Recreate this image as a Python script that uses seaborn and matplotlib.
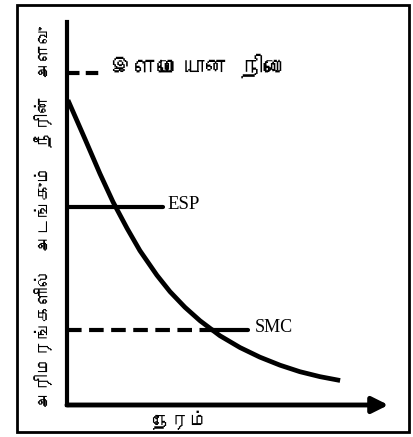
import matplotlib
matplotlib.use("Agg")
import matplotlib.pyplot as plt
from matplotlib import font_manager
from matplotlib.ft2font import FT2Font
from matplotlib.patches import Rectangle
import seaborn as sns
import pandas as pd

# ---- data (schematic units 0..100) ----
time_vals = [0.3, 5.6, 10.3, 14.4, 18.8, 22.8, 28.1, 32.2, 36.9, 41.6, 47.8,
             54.1, 60.3, 66.6, 72.8, 79.1, 85.4]
moisture_vals = [79.6, 69.5, 60.4, 53.0, 46.1, 40.3, 33.9, 29.6, 25.5, 22.0,
                 18.1, 15.0, 12.5, 10.4, 8.7, 7.4, 6.4]
young_level = 86.7
esp_level = 51.7
smc_level = 19.6
label_young = "இளமையான நிலை"
label_esp = "ESP"
label_smc = "SMC"
x_label = "நேரம்"
y_label = "அரிமரங்களில்  அடங்கும்  நீரின்  அளவு"

sns.set_theme(style="white")

# find a font with Tamil glyphs if one exists
tamil_font = None
for f in font_manager.fontManager.ttflist:
    try:
        ft = FT2Font(f.fname)
        if ft.get_char_index(0x0B87) and ft.get_char_index(0x0BAE):
            tamil_font = f.name
            break
    except Exception:
        pass
fam = [tamil_font, "DejaVu Sans"] if tamil_font else ["DejaVu Sans"]
plt.rcParams["font.family"] = fam

fig = plt.figure(figsize=(4.13, 4.37), dpi=100)
W, H = 413, 437
fig.patches.append(Rectangle((17 / W, 1 - 432 / H), 392 / W, 427 / H,
                             transform=fig.transFigure, fill=False,
                             edgecolor="black", linewidth=2))
ax = fig.add_axes([67 / W, 1 - 405 / H, (390 - 67) / W, (405 - 22) / H])
ax.set_xlim(0, 101)
ax.set_ylim(0, 100)
for s in ["top", "right", "bottom"]:
    ax.spines[s].set_visible(False)
ax.spines["left"].set_linewidth(3)
ax.spines["left"].set_color("black")
ax.set_xticks([])
ax.set_yticks([])

df = pd.DataFrame({"t": time_vals, "m": moisture_vals})
sns.lineplot(data=df, x="t", y="m", ax=ax, color="black", linewidth=3.4,
             solid_joinstyle="round", solid_capstyle="butt")

# x axis with arrow
ax.annotate("", xy=(100.5, 0), xytext=(0, 0),
            arrowprops=dict(arrowstyle="-|>,head_length=0.8,head_width=0.4",
                            lw=3.5, color="black", shrinkA=0, shrinkB=0),
            annotation_clip=False)

# level lines
ax.plot([0, 10.3], [young_level, young_level], color="black", lw=3, ls=(0, (3, 1.5)))
ax.plot([0, 30], [esp_level, esp_level], color="black", lw=3)
ax.plot([0, 47], [smc_level, smc_level], color="black", lw=3, ls=(0, (3.5, 1.8)))
ax.plot([45, 56.6], [smc_level, smc_level], color="black", lw=3)

ax.text(13.5, young_level + 1.8, label_young, fontsize=17, va="center", ha="left", color="black")
ax.text(31.5, esp_level + 0.6, label_esp, fontsize=13.5, va="center", ha="left",
        family="Liberation Serif", color="black")
ax.text(58.8, smc_level + 0.6, label_smc, fontsize=13, va="center", ha="left",
        family="Liberation Serif", color="black")

fig.text(180 / W, 1 - 420 / H, x_label, fontsize=13.5, ha="center", va="center", color="black")
fig.text(44 / W, 1 - 217 / H, y_label, fontsize=12.5, ha="center", va="center",
         rotation=90, color="black")

fig.savefig("out.png", dpi=100)
